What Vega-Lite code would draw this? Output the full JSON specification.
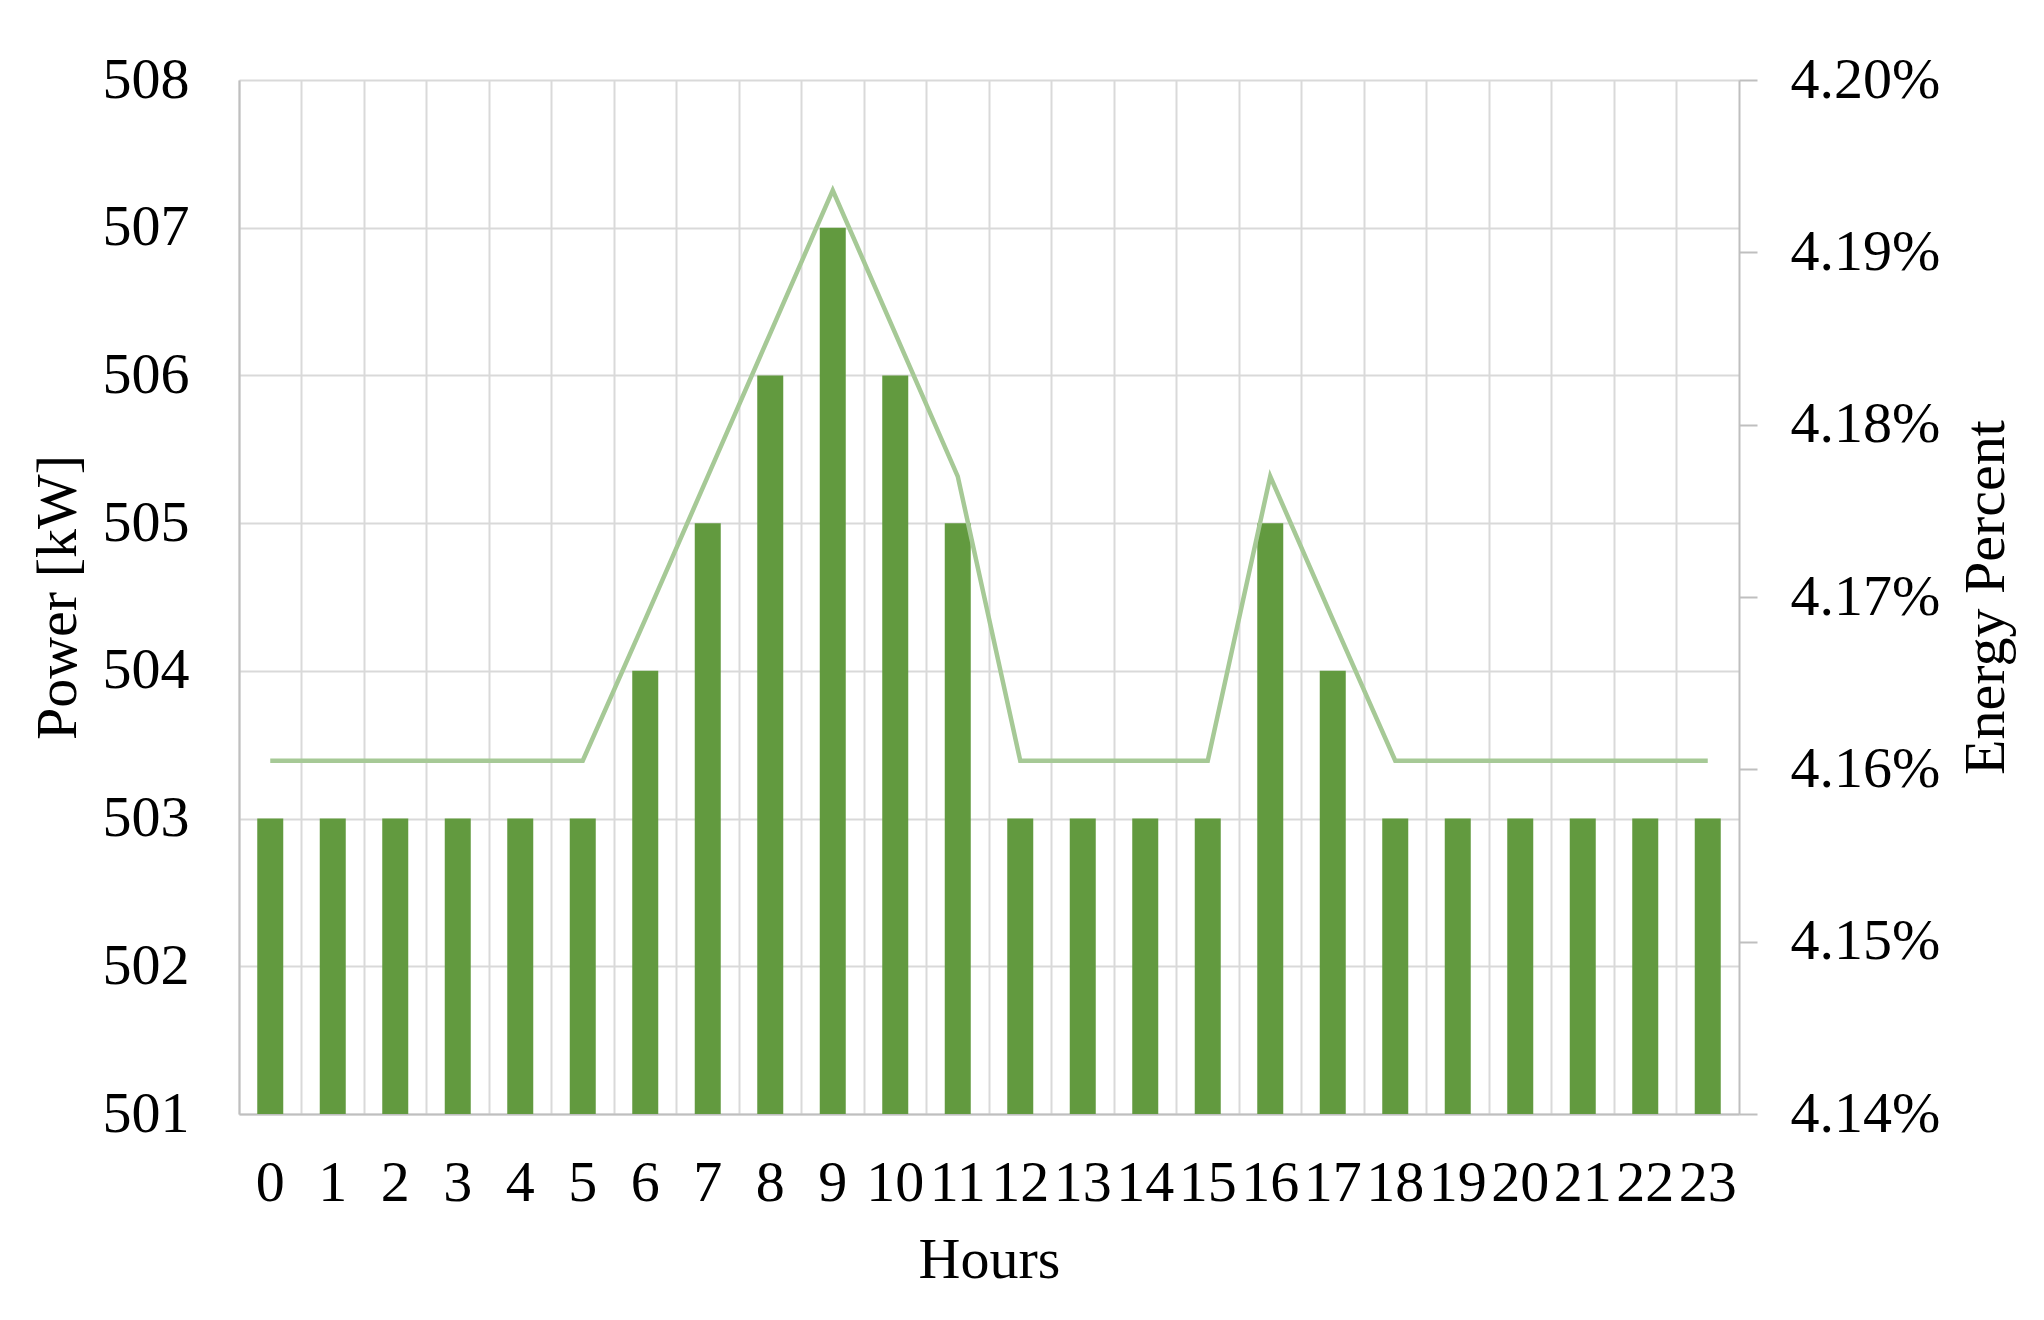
{
  "$schema": "https://vega.github.io/schema/vega-lite/v6.json",
  "width": 1500,
  "height": 1034,
  "autosize": "none",
  "padding": {"left": 239, "top": 80, "right": 305, "bottom": 206},
  "background": "white",
  "config": {
    "font": "Liberation Serif",
    "view": {"stroke": null},
    "axis": {"labelFont": "Liberation Serif", "titleFont": "Liberation Serif", "labelColor": "black", "titleColor": "black", "labelFontSize": 58, "titleFontSize": 58, "titleFontWeight": "normal"}
  },
  "data": {
    "values": [
      {"hour": "0", "power": 503, "pct": 0.041605},
      {"hour": "1", "power": 503, "pct": 0.041605},
      {"hour": "2", "power": 503, "pct": 0.041605},
      {"hour": "3", "power": 503, "pct": 0.041605},
      {"hour": "4", "power": 503, "pct": 0.041605},
      {"hour": "5", "power": 503, "pct": 0.041605},
      {"hour": "6", "power": 504, "pct": 0.041687},
      {"hour": "7", "power": 505, "pct": 0.041770},
      {"hour": "8", "power": 506, "pct": 0.041853},
      {"hour": "9", "power": 507, "pct": 0.041936},
      {"hour": "10", "power": 506, "pct": 0.041853},
      {"hour": "11", "power": 505, "pct": 0.041770},
      {"hour": "12", "power": 503, "pct": 0.041605},
      {"hour": "13", "power": 503, "pct": 0.041605},
      {"hour": "14", "power": 503, "pct": 0.041605},
      {"hour": "15", "power": 503, "pct": 0.041605},
      {"hour": "16", "power": 505, "pct": 0.041770},
      {"hour": "17", "power": 504, "pct": 0.041687},
      {"hour": "18", "power": 503, "pct": 0.041605},
      {"hour": "19", "power": 503, "pct": 0.041605},
      {"hour": "20", "power": 503, "pct": 0.041605},
      {"hour": "21", "power": 503, "pct": 0.041605},
      {"hour": "22", "power": 503, "pct": 0.041605},
      {"hour": "23", "power": 503, "pct": 0.041605}
    ]
  },
  "encoding": {
    "x": {
      "field": "hour", "type": "ordinal", "sort": null,
      "scale": {"paddingInner": 0, "paddingOuter": 0},
      "axis": {
        "title": "Hours", "labelAngle": 0, "labelPadding": 40, "titlePadding": 19,
        "ticks": false, "domainColor": "#BFBFBF", "domainWidth": 2,
        "grid": true, "bandPosition": 0, "gridColor": "#D9D9D9", "gridWidth": 2
      }
    }
  },
  "layer": [
    {
      "mark": {"type": "bar", "color": "#629A3F", "width": {"band": 0.416}},
      "encoding": {
        "y": {
          "field": "power", "type": "quantitative",
          "scale": {"domain": [501, 508], "zero": false, "nice": false},
          "axis": {
            "title": "Power [kW]", "values": [501, 502, 503, 504, 505, 506, 507, 508],
            "ticks": false, "labelPadding": 50, "titlePadding": 15,
            "domainColor": "#BFBFBF", "domainWidth": 2,
            "grid": true, "gridColor": "#D9D9D9", "gridWidth": 2
          }
        },
        "y2": {"datum": 501}
      }
    },
    {
      "mark": {"type": "line", "color": "#A6C996", "strokeWidth": 4.5},
      "encoding": {
        "y": {
          "field": "pct", "type": "quantitative",
          "scale": {"domain": [0.0414, 0.042], "zero": false, "nice": false},
          "axis": {
            "title": "Energy Percent", "orient": "right", "format": ".2%",
            "titleAngle": 270, "titleBaseline": "top",
            "values": [0.0414, 0.0415, 0.0416, 0.0417, 0.0418, 0.0419, 0.042],
            "ticks": true, "tickSize": 18, "tickColor": "#BFBFBF", "tickWidth": 2,
            "labelPadding": 33, "titlePadding": 18,
            "domainColor": "#BFBFBF", "domainWidth": 2, "grid": false
          }
        }
      }
    }
  ],
  "resolve": {"scale": {"y": "independent"}}
}
